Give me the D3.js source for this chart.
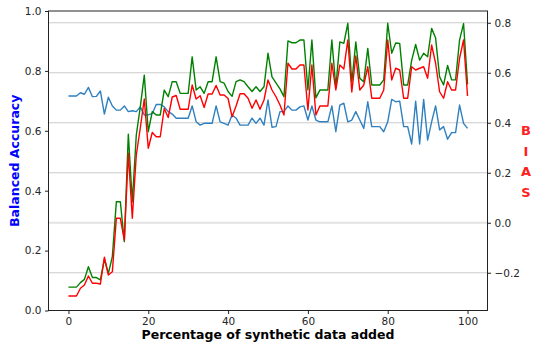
<!DOCTYPE html>
<html>
<head>
<meta charset="utf-8">
<script src="https://cdn.jsdelivr.net/npm/d3@7"></script>
<style>
  html, body { margin: 0; padding: 0; background: #fff; }
  svg text { font-family: "DejaVu Sans", sans-serif; }
</style>
</head>
<body>
<svg id="chart" width="537" height="343"></svg>
<script>
// Percentage of synthetic data added (x positions)
const pct = d3.range(0, 101);

// Balanced accuracy, blue series (left axis)
const accBlue = [
  0.716, 0.716, 0.716, 0.727, 0.722, 0.745, 0.714, 0.715, 0.733, 0.656,
  0.712, 0.683, 0.669, 0.669, 0.683, 0.664, 0.667, 0.664, 0.680, 0.653,
  0.653, 0.658, 0.688, 0.688, 0.680, 0.664, 0.656, 0.642, 0.642, 0.642,
  0.642, 0.683, 0.630, 0.619, 0.625, 0.625, 0.625, 0.683, 0.630, 0.625,
  0.619, 0.653, 0.642, 0.619, 0.619, 0.619, 0.642, 0.625, 0.642, 0.619,
  0.703, 0.612, 0.614, 0.664, 0.664, 0.683, 0.669, 0.669, 0.680, 0.683,
  0.636, 0.683, 0.636, 0.630, 0.630, 0.630, 0.683, 0.597, 0.686, 0.692,
  0.630, 0.636, 0.664, 0.636, 0.608, 0.697, 0.614, 0.614, 0.614, 0.597,
  0.630, 0.705, 0.697, 0.699, 0.614, 0.614, 0.556, 0.699, 0.556, 0.705,
  0.569, 0.630, 0.683, 0.603, 0.614, 0.572, 0.594, 0.594, 0.686, 0.625, 0.608
];

// Balanced accuracy, green series (left axis)
const accGreen = [
  0.078, 0.078, 0.078, 0.093, 0.104, 0.146, 0.110, 0.110, 0.102, 0.171,
  0.124, 0.180, 0.363, 0.363, 0.230, 0.589, 0.363, 0.586, 0.680, 0.786,
  0.597, 0.664, 0.653, 0.653, 0.736, 0.714, 0.764, 0.764, 0.725, 0.725,
  0.725, 0.847, 0.736, 0.747, 0.725, 0.764, 0.764, 0.847, 0.764, 0.759,
  0.731, 0.715, 0.764, 0.770, 0.764, 0.747, 0.731, 0.747, 0.731, 0.747,
  0.859, 0.780, 0.760, 0.740, 0.714, 0.900, 0.894, 0.894, 0.903, 0.903,
  0.736, 0.903, 0.710, 0.736, 0.736, 0.736, 0.903, 0.745, 0.897, 0.892,
  0.959, 0.762, 0.897, 0.775, 0.764, 0.875, 0.753, 0.753, 0.753, 0.770,
  0.959, 0.859, 0.893, 0.892, 0.753, 0.753, 0.835, 0.888, 0.836, 0.859,
  0.847, 0.942, 0.910, 0.780, 0.753, 0.818, 0.770, 0.770, 0.903, 0.958, 0.755
];

// Bias, red series (right axis)
const bias = [
  -0.293, -0.293, -0.293, -0.262, -0.249, -0.213, -0.242, -0.242, -0.245, -0.138,
  -0.209, -0.196, 0.018, 0.018, -0.069, 0.278, 0.018, 0.271, 0.379, 0.495,
  0.298, 0.361, 0.344, 0.344, 0.457, 0.421, 0.503, 0.509, 0.454, 0.454,
  0.454, 0.551, 0.495, 0.508, 0.461, 0.515, 0.515, 0.549, 0.511, 0.511,
  0.497, 0.424, 0.467, 0.516, 0.516, 0.498, 0.458, 0.491, 0.454, 0.491,
  0.571, 0.531, 0.504, 0.471, 0.431, 0.638, 0.615, 0.615, 0.631, 0.631,
  0.451, 0.631, 0.431, 0.467, 0.467, 0.467, 0.638, 0.531, 0.631, 0.615,
  0.731, 0.523, 0.667, 0.531, 0.551, 0.624, 0.498, 0.498, 0.498, 0.531,
  0.731, 0.571, 0.618, 0.611, 0.498, 0.498, 0.624, 0.611, 0.618, 0.624,
  0.578, 0.711, 0.638, 0.524, 0.498, 0.564, 0.531, 0.531, 0.658, 0.731, 0.507
];

// Tick values
const xTicks = [0, 20, 40, 60, 80, 100];
const leftTicks = [0.0, 0.2, 0.4, 0.6, 0.8, 1.0];
const rightTicks = [-0.2, 0.0, 0.2, 0.4, 0.6, 0.8];

const svg = d3.select("#chart");
const plot = { left: 48.5, right: 487.5, top: 11, bottom: 310.5 };

const x = d3.scaleLinear().domain([-5, 105]).range([plot.left, plot.right]);
const yL = d3.scaleLinear().domain([0, 1]).range([plot.bottom, plot.top]);
const yR = d3.scaleLinear().domain([-0.351, 0.847]).range([plot.bottom, plot.top]);

// Horizontal grid at the bias ticks
svg.append("g").selectAll("line")
  .data(rightTicks)
  .join("line")
  .attr("x1", plot.left).attr("x2", plot.right)
  .attr("y1", d => yR(d)).attr("y2", d => yR(d))
  .attr("stroke", d => d === 0 ? "#e2e2e2" : "#cbcbcb")
  .attr("stroke-width", d => d === 0 ? 2 : 1);

const lineL = d3.line().x((d, i) => x(pct[i])).y(d => yL(d));
const lineR = d3.line().x((d, i) => x(pct[i])).y(d => yR(d));

svg.append("path").datum(accBlue)
  .attr("d", lineL).attr("fill", "none")
  .attr("stroke", "#2f80c0").attr("stroke-width", 1.4).attr("stroke-linejoin", "round");
svg.append("path").datum(accGreen)
  .attr("d", lineL).attr("fill", "none")
  .attr("stroke", "#008000").attr("stroke-width", 1.4).attr("stroke-linejoin", "round");
svg.append("path").datum(bias)
  .attr("d", lineR).attr("fill", "none")
  .attr("stroke", "#ff0000").attr("stroke-width", 1.4).attr("stroke-linejoin", "round");

// Frame
svg.append("rect")
  .attr("x", plot.left).attr("y", plot.top)
  .attr("width", plot.right - plot.left).attr("height", plot.bottom - plot.top)
  .attr("fill", "none").attr("stroke", "#222").attr("stroke-width", 1);

const fmt1 = d3.format(".1f");
const fmtR = d => (d < 0 ? "\u2212" : "") + fmt1(Math.abs(d));

function styleAxis(g) {
  g.select(".domain").remove();
  g.selectAll(".tick line").attr("stroke", "#222");
  g.selectAll(".tick text").attr("fill", "#262626")
    .style("font-size", "10.5px").style("font-family", "DejaVu Sans, sans-serif");
}

svg.append("g")
  .attr("transform", `translate(0,${plot.bottom})`)
  .call(d3.axisBottom(x).tickValues(xTicks).tickFormat(d3.format("d")).tickSize(3.5).tickPadding(3.5))
  .call(styleAxis);

svg.append("g")
  .attr("transform", `translate(${plot.left},0)`)
  .call(d3.axisLeft(yL).tickValues(leftTicks).tickFormat(fmt1).tickSize(3.5).tickPadding(3.5))
  .call(styleAxis);

svg.append("g")
  .attr("transform", `translate(${plot.right},0)`)
  .call(d3.axisRight(yR).tickValues(rightTicks).tickFormat(fmtR).tickSize(3.5).tickPadding(3.5))
  .call(styleAxis);

// Axis titles
svg.append("text")
  .attr("x", (x(-5) + x(105)) / 2).attr("y", 339)
  .attr("text-anchor", "middle")
  .style("font-size", "12.5px").style("font-weight", "bold").attr("fill", "#000")
  .text("Percentage of synthetic data added");

svg.append("text")
  .attr("transform", `translate(19,${(plot.top + plot.bottom) / 2}) rotate(-90)`)
  .attr("text-anchor", "middle")
  .style("font-size", "12.5px").style("font-weight", "bold").attr("fill", "#0000ff")
  .text("Balanced Accuracy");

const biasLetters = ["B", "I", "A", "S"];
svg.append("g").selectAll("text")
  .data(biasLetters)
  .join("text")
  .attr("x", 526).attr("y", (d, i) => 135 + i * 20.6)
  .attr("text-anchor", "middle")
  .style("font-size", "13px").style("font-weight", "bold").attr("fill", "#ff2020")
  .text(d => d);
</script>
</body>
</html>
